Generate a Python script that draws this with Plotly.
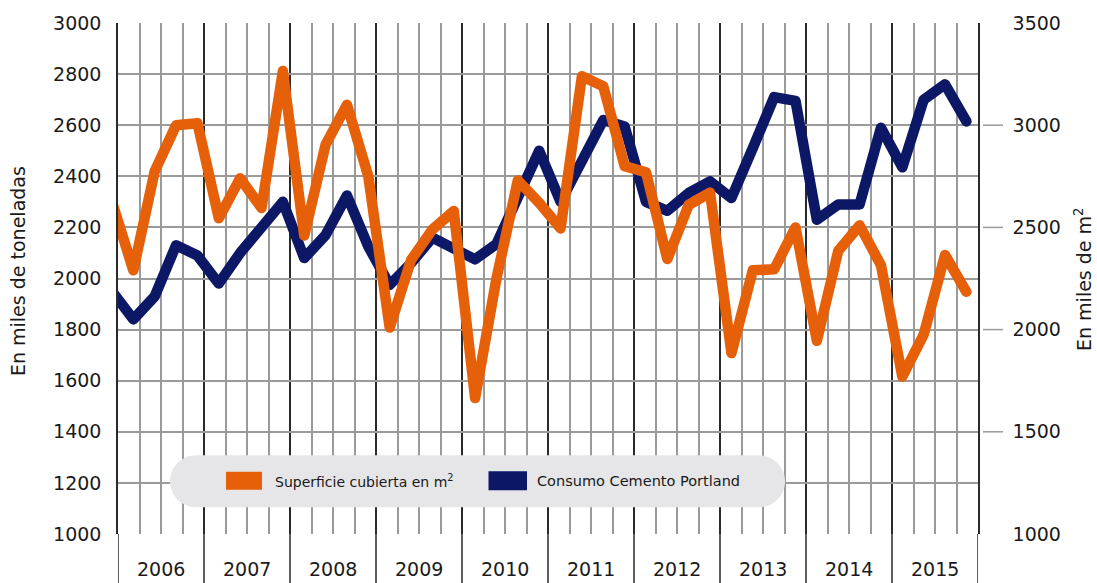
import plotly.graph_objects as go

# ---------------- data ----------------
years = [2006, 2007, 2008, 2009, 2010, 2011, 2012, 2013, 2014, 2015]

# Consumo Cemento Portland (miles de toneladas) - left axis
cemento = [1950, 1840, 1930, 2130, 2090, 1980, 2100, 2205, 2300, 2080,
           2170, 2325, 2125, 1975, 2060, 2160, 2120, 2075, 2135, 2330,
           2500, 2300, 2470, 2620, 2595, 2300, 2265, 2335, 2380, 2315,
           2510, 2710, 2695, 2230, 2290, 2290, 2590, 2435, 2700, 2760,
           2615]

# Superficie cubierta (miles de m2) - right axis
superficie = [2625, 2290, 2775, 3000, 3010, 2545, 2740, 2595, 3265, 2460,
              2905, 3100, 2750, 2010, 2340, 2490, 2580, 1665, 2250, 2730,
              2620, 2495, 3240, 3190, 2800, 2770, 2345, 2610, 2670, 1885,
              2290, 2295, 2500, 1945, 2385, 2510, 2315, 1770, 1975, 2365,
              2185]

left_ticks = list(range(1000, 3001, 200))
right_ticks = [1000, 1500, 2000, 2500, 3000, 3500]
right_marked = [1500, 2000, 2500, 3000]

# ---------------- styling ----------------
ORANGE = "#E6600A"
NAVY = "#0C1766"
GRID = "#9A9A9A"
DARK = "#2A2A2A"
TXT = "#1A1A1A"
FONT = "DejaVu Sans"

X_OFFSET = -0.28
X_STEP = 0.9935
xs = [X_OFFSET + X_STEP * i for i in range(len(cemento))]
n_quarters = 4 * len(years)

fig = go.Figure()
fig.add_trace(go.Scatter(x=xs, y=cemento, mode="lines", yaxis="y",
                         line=dict(color=NAVY, width=10.5),
                         name="Consumo Cemento Portland", showlegend=False))
fig.add_trace(go.Scatter(x=xs, y=superficie, mode="lines", yaxis="y2",
                         line=dict(color=ORANGE, width=10.5),
                         name="Superficie cubierta en m2", showlegend=False))

L, R, T, B = 118, 119, 21, 49
W, H = 1097, 583
pw, ph = W - L - R, H - T - B


def px_x(p):
    return (p - L) / pw


def px_y(p):
    return (H - B - p) / ph


shapes = []
# year divider extensions below the plot
for k in range(0, n_quarters + 1, 4):
    shapes.append(dict(type="line", xref="x", yref="paper", x0=k, x1=k,
                       y0=0, y1=-0.12, line=dict(color=DARK, width=1.5),
                       layer="above"))
# right-axis tick dashes
for v in right_marked:
    shapes.append(dict(type="line", xref="paper", yref="y2",
                       x0=px_x(983), x1=px_x(1003), y0=v, y1=v,
                       line=dict(color=GRID, width=1.5)))

# legend pill (pixel-sized, anchored at its centre)
hw, hh, r = 307.5, 26, 26
kk = 0.5523 * r
pill = (f"M {-hw + r},{-hh} L {hw - r},{-hh} "
        f"C {hw - r + kk},{-hh} {hw},{-kk} {hw},0 "
        f"C {hw},{kk} {hw - r + kk},{hh} {hw - r},{hh} "
        f"L {-hw + r},{hh} "
        f"C {-hw + r - kk},{hh} {-hw},{kk} {-hw},0 "
        f"C {-hw},{-kk} {-hw + r - kk},{-hh} {-hw + r},{-hh} Z")
cx_px, cy_px = 477.5, 481
shapes.append(dict(type="path", xref="x", yref="y",
                   xsizemode="pixel", ysizemode="pixel",
                   xanchor=(cx_px - L) / pw * n_quarters,
                   yanchor=3000 - (cy_px - T) / ph * 2000,
                   path=pill, fillcolor="#E6E6E8",
                   line=dict(width=0), layer="between"))
# legend swatches
shapes.append(dict(type="rect", xref="paper", yref="paper",
                   x0=px_x(226), x1=px_x(262), y0=px_y(489.5), y1=px_y(471.5),
                   fillcolor=ORANGE, line=dict(width=0), layer="above"))
shapes.append(dict(type="rect", xref="paper", yref="paper",
                   x0=px_x(488.5), x1=px_x(527), y0=px_y(490), y1=px_y(471),
                   fillcolor=NAVY, line=dict(width=0), layer="above"))

annotations = []
for i, y in enumerate(years):
    annotations.append(dict(x=4 * i + 2, y=px_y(569), xref="x", yref="paper",
                            text=str(y), showarrow=False,
                            font=dict(size=19, color=TXT, family=FONT),
                            xanchor="center", yanchor="middle"))
annotations.append(dict(x=px_x(273), y=px_y(481), xref="paper", yref="paper",
                        text="Superficie cubierta en m<sup>2</sup>", showarrow=False,
                        xanchor="left", yanchor="middle",
                        font=dict(size=14, color=TXT, family=FONT)))
annotations.append(dict(x=px_x(535), y=px_y(481), xref="paper", yref="paper",
                        text="Consumo Cemento Portland", showarrow=False,
                        xanchor="left", yanchor="middle",
                        font=dict(size=14.5, color=TXT, family=FONT)))
annotations.append(dict(x=px_x(18), y=px_y(270), xref="paper", yref="paper",
                        text="En miles de toneladas", showarrow=False,
                        textangle=-90, xanchor="center", yanchor="middle",
                        font=dict(size=19, color=TXT, family=FONT)))
annotations.append(dict(x=px_x(1083), y=px_y(278), xref="paper", yref="paper",
                        text="En miles de m<sup>2</sup>", showarrow=False,
                        textangle=-90, xanchor="center", yanchor="middle",
                        font=dict(size=19, color=TXT, family=FONT)))

fig.update_layout(
    width=W, height=H,
    margin=dict(l=L, r=R, t=T, b=B),
    paper_bgcolor="white", plot_bgcolor="white",
    font=dict(family=FONT, color=TXT),
    showlegend=False,
    xaxis=dict(range=[0, n_quarters], showticklabels=False, ticks="",
               tick0=0, dtick=4, showgrid=True, gridcolor=DARK, gridwidth=1.5,
               minor=dict(tick0=0, dtick=1, showgrid=True, gridcolor=GRID,
                          gridwidth=1.5),
               zeroline=False, showline=False, fixedrange=True),
    yaxis=dict(range=[1000, 3000], tickvals=left_ticks, ticks="",
               ticklabelstandoff=11, tickfont=dict(size=19, color=TXT),
               showgrid=True, gridcolor=GRID, gridwidth=1.5,
               zeroline=False, showline=True, linecolor=DARK, linewidth=1.5),
    yaxis2=dict(range=[1000, 3500], tickvals=right_ticks, ticks="",
                overlaying="y", side="right", ticklabelstandoff=29,
                tickfont=dict(size=19, color=TXT), showgrid=False,
                zeroline=False, showline=True, linecolor=DARK, linewidth=1.5),
    shapes=shapes,
    annotations=annotations,
)

fig.write_html(
    "out.html",
    config={"displayModeBar": False},
    post_script="document.body.style.margin='0px';document.body.style.padding='0px';"
                "document.body.style.overflow='hidden';"
                "document.querySelectorAll('.scatterlayer .js-line').forEach("
                "function(p){p.style.strokeLinejoin='round';p.style.strokeLinecap='round';});",
)
